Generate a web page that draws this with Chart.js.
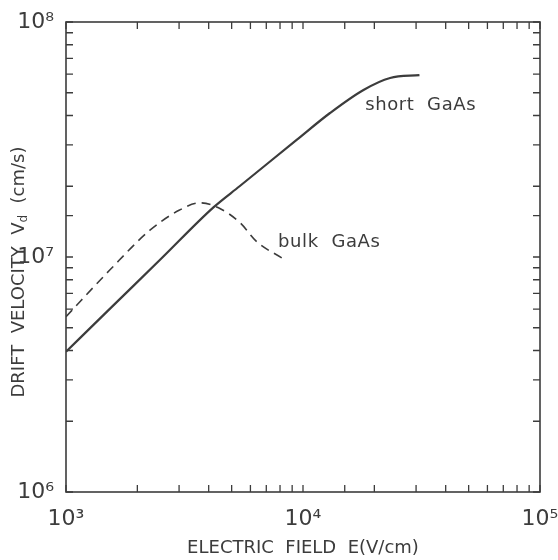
<!DOCTYPE html>
<html>
<head>
<meta charset="UTF-8">
<title>Drift velocity vs electric field</title>
<script src="https://cdn.jsdelivr.net/npm/chart.js"></script>
<style>
  html, body { margin: 0; padding: 0; background: #fff; }
  #wrap { width: 558px; height: 560px; }
</style>
</head>
<body>
<div id="wrap"><canvas id="chart"></canvas></div>
<script>
// values (E in V/cm, vd in cm/s)
const shortE = [1000, 1500, 2500, 4200, 5400, 9400, 13000, 18000, 23300, 31000];
const shortV = [3.95e6, 5.9e6, 9.75e6, 1.63e7, 2.0e7, 3.15e7, 4.1e7, 5.14e7, 5.78e7, 5.94e7];
const bulkE = [1000, 1530, 2260, 3000, 3670, 4400, 5420, 6390, 8150];
const bulkV = [5.57e6, 8.8e6, 1.3e7, 1.58e7, 1.7e7, 1.62e7, 1.4e7, 1.16e7, 9.9e6];

const curveLabels = ['short  GaAs', 'bulk  GaAs'];
const labelAt = [[18300, 4.44e7], [7850, 1.16e7]];

const xTitle = 'ELECTRIC  FIELD  E(V/cm)';
const yTitle = ['DRIFT  VELOCITY  V', 'd', '  (cm/s)'];

const sup = { '0':'⁰','1':'¹','2':'²','3':'³','4':'⁴','5':'⁵','6':'⁶','7':'⁷','8':'⁸','9':'⁹' };
function powLabel(v) {
  const e = Math.round(Math.log10(v));
  if (Math.abs(v - Math.pow(10, e)) > 1e-6 * v) return '';
  return '10' + String(e).split('').map(c => sup[c]).join('');
}

const ink = '#3c3c3c';

const framePlugin = {
  id: 'frame',
  afterDraw(chart) {
    const ctx = chart.ctx, a = chart.chartArea;
    const xs = chart.scales.x, ys = chart.scales.y;
    ctx.save();
    ctx.strokeStyle = ink;
    ctx.lineWidth = 1.6;
    ctx.strokeRect(a.left, a.top, a.right - a.left, a.bottom - a.top);
    ctx.lineWidth = 1.3;
    ctx.beginPath();
    xs.ticks.forEach(t => {
      const px = xs.getPixelForValue(t.value);
      ctx.moveTo(px, a.bottom); ctx.lineTo(px, a.bottom - 7);
      ctx.moveTo(px, a.top); ctx.lineTo(px, a.top + 7);
    });
    ys.ticks.forEach(t => {
      const py = ys.getPixelForValue(t.value);
      ctx.moveTo(a.left, py); ctx.lineTo(a.left + 7, py);
      ctx.moveTo(a.right, py); ctx.lineTo(a.right - 7, py);
    });
    ctx.stroke();

    // curve labels
    ctx.fillStyle = ink;
    ctx.font = '18px "DejaVu Sans"';
    ctx.letterSpacing = '0.6px';
    ctx.textBaseline = 'middle';
    ctx.textAlign = 'left';
    curveLabels.forEach((txt, i) => {
      ctx.fillText(txt, xs.getPixelForValue(labelAt[i][0]), ys.getPixelForValue(labelAt[i][1]));
    });
    ctx.letterSpacing = '0px';

    // y axis title with subscript
    ctx.translate(19, 272);
    ctx.rotate(-Math.PI / 2);
    const big = '18px "DejaVu Sans"', small = '12px "DejaVu Sans"';
    ctx.font = big; const w0 = ctx.measureText(yTitle[0]).width;
    ctx.font = small; const w1 = ctx.measureText(yTitle[1]).width;
    ctx.font = big; const w2 = ctx.measureText(yTitle[2]).width;
    let x0 = -(w0 + w1 + w2) / 2;
    ctx.font = big; ctx.fillText(yTitle[0], x0, 0);
    ctx.font = small; ctx.fillText(yTitle[1], x0 + w0, 5);
    ctx.font = big; ctx.fillText(yTitle[2], x0 + w0 + w1, 0);
    ctx.restore();
  }
};

new Chart(document.getElementById('chart'), {
  type: 'line',
  data: {
    datasets: [
      {
        label: 'short GaAs',
        data: shortE.map((e, i) => ({ x: e, y: shortV[i] })),
        borderColor: ink,
        borderWidth: 2.2,
        pointRadius: 0,
        cubicInterpolationMode: 'monotone',
        fill: false
      },
      {
        label: 'bulk GaAs',
        data: bulkE.map((e, i) => ({ x: e, y: bulkV[i] })),
        borderColor: ink,
        borderWidth: 1.6,
        borderDash: [9, 6],
        pointRadius: 0,
        cubicInterpolationMode: 'monotone',
        fill: false
      }
    ]
  },
  options: {
    responsive: true,
    maintainAspectRatio: false,
    animation: false,
    layout: { padding: { top: 22, right: 18, left: 0, bottom: 0 } },
    plugins: { legend: { display: false }, tooltip: { enabled: false } },
    scales: {
      x: {
        type: 'logarithmic',
        min: 1000, max: 100000,
        grid: { display: false },
        border: { display: false },
        ticks: {
          autoSkip: false, maxRotation: 0, padding: 6,
          color: ink, font: { family: 'DejaVu Sans', size: 22 },
          callback: v => powLabel(v)
        },
        title: {
          display: true, text: xTitle, color: ink,
          font: { family: 'DejaVu Sans', size: 18 },
          padding: { top: 0, bottom: 1 }
        },
        afterFit: s => { s.height = 68; s.paddingLeft = 0; s.paddingRight = 0; }
      },
      y: {
        type: 'logarithmic',
        min: 1e6, max: 1e8,
        grid: { display: false },
        border: { display: false },
        ticks: {
          autoSkip: false, padding: 4,
          color: ink, font: { family: 'DejaVu Sans', size: 22 },
          callback: v => powLabel(v)
        },
        afterFit: s => { s.width = 66; s.paddingTop = 0; s.paddingBottom = 0; }
      }
    }
  },
  plugins: [framePlugin]
});
</script>
</body>
</html>
